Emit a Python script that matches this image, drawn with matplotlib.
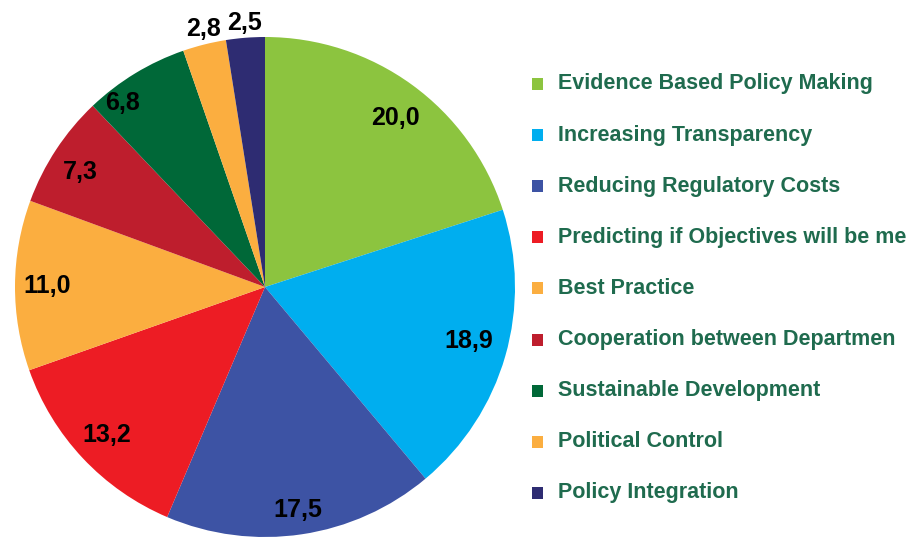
import matplotlib
matplotlib.use("Agg")
import matplotlib.pyplot as plt
from matplotlib.patches import Rectangle
import numpy as np

categories = ["Evidence Based Policy Making", "Increasing Transparency",
              "Reducing Regulatory Costs", "Predicting if Objectives will be me",
              "Best Practice", "Cooperation between Departmen",
              "Sustainable Development", "Political Control", "Policy Integration"]
values = [20.0, 18.9, 17.5, 13.2, 11.0, 7.3, 6.8, 2.8, 2.5]
colors = ["#8CC43F", "#00AEEF", "#3D53A4", "#ED1C24", "#FBAE40",
          "#BE1E2D", "#006838", "#FBAE40", "#2E2C72"]
label_dist = [0.853, 0.844, 0.90, 0.866, 0.872, 0.871, 0.93, 1.06, 1.06]
label_ang_off = [-1.6, 1.2, 0, 0, 0, 1.4, 6.4, -0.7, 0]

W, H = 908, 537
fig = plt.figure(figsize=(W / 100, H / 100), dpi=100)
fig.patch.set_facecolor("white")

cx, cy, r = 265, 287, 250
ax = fig.add_axes([(cx - r) / W, (H - cy - r) / H, 2 * r / W, 2 * r / H])
wedges, _ = ax.pie(values, colors=colors, startangle=90, counterclock=False,
                   radius=1.0, wedgeprops=dict(linewidth=0))
ax.set_xlim(-1, 1)
ax.set_ylim(-1, 1)
ax.set_aspect("equal")
ax.axis("off")

for w, v, d, off in zip(wedges, values, label_dist, label_ang_off):
    ang = np.deg2rad((w.theta1 + w.theta2) / 2 + off)
    ax.text(d * np.cos(ang), d * np.sin(ang), f"{v:.1f}".replace(".", ","),
            ha="center", va="center", fontsize=18, fontweight="bold",
            family="Liberation Sans", color="black", clip_on=False)

# legend
y0, dy = 84, 51.1
for i, (lab, col) in enumerate(zip(categories, colors)):
    y = y0 + i * dy
    fig.patches.append(Rectangle((532 / W, (H - y - 6) / H), 11 / W, 12 / H,
                                 transform=fig.transFigure, facecolor=col,
                                 edgecolor="none"))
    fig.text(558 / W, (H - y) / H, lab, ha="left", va="center",
             fontsize=15.5, fontweight="bold", family="Liberation Sans",
             color="#1F6B4E")

fig.savefig("out.png", dpi=100)
